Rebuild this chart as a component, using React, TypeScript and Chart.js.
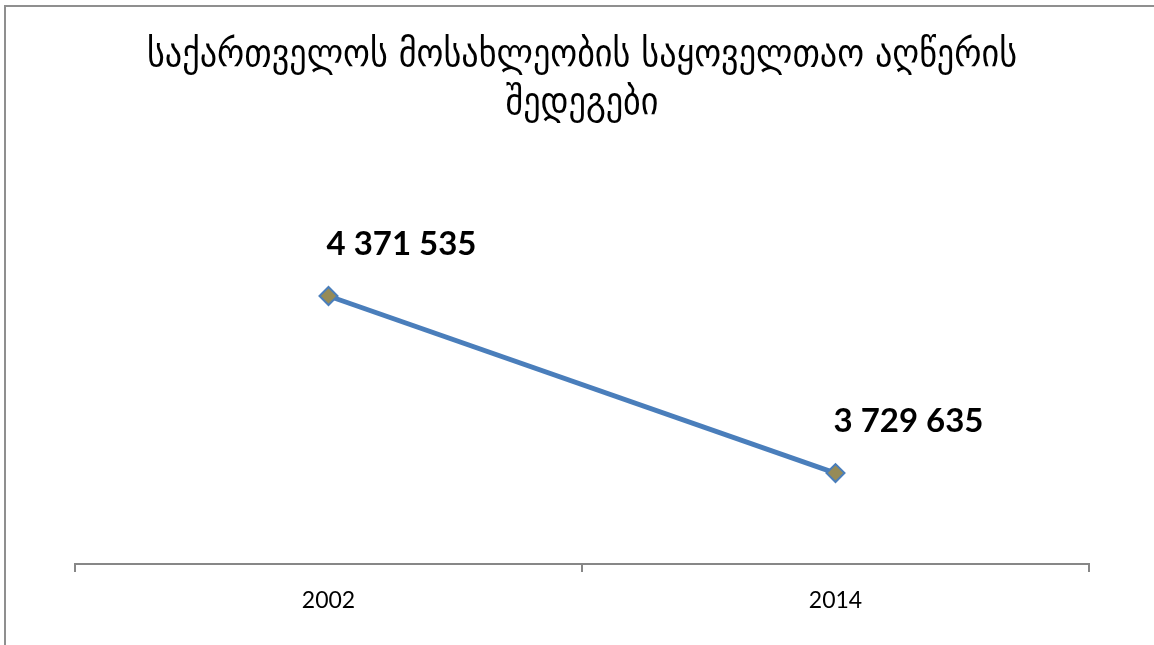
import React, { useEffect, useRef } from "react";
import { Chart, registerables } from "chart.js";

Chart.register(...registerables);

const categories = ["2002", "2014"];
const population = [4371535, 3729635];
const titleLines = [
  "საქართველოს მოსახლეობის საყოველთაო აღწერის",
  "შედეგები",
];

const formatValue = (v: number) =>
  String(v).replace(/\B(?=(\d{3})+(?!\d))/g, " ");

const framePlugin = {
  id: "frame",
  beforeDraw(chart: any) {
    const ctx = chart.ctx;
    ctx.save();
    ctx.fillStyle = "#ffffff";
    ctx.fillRect(0, 0, chart.width, chart.height);
    ctx.fillStyle = "#8f8f8f";
    ctx.fillRect(4, 5, 2, chart.height - 5);
    ctx.fillRect(4, 5, chart.width - 4, 2);
    ctx.restore();
  },
};

const labelPlugin = {
  id: "valueLabels",
  afterDatasetsDraw(chart: any) {
    const ctx = chart.ctx;
    const meta = chart.getDatasetMeta(0);
    const data = chart.data.datasets[0].data as number[];
    ctx.save();
    ctx.font = "bold 33px Lato";
    ctx.fillStyle = "#000000";
    ctx.textAlign = "center";
    ctx.textBaseline = "middle";
    meta.data.forEach((pt: any, i: number) => {
      ctx.fillText(formatValue(data[i]), pt.x + 73, pt.y - 52);
    });
    ctx.restore();
  },
};

export default function App() {
  const ref = useRef<HTMLCanvasElement>(null);
  useEffect(() => {
    if (!ref.current) return;
    const chart = new Chart(ref.current, {
      type: "line",
      data: {
        labels: categories,
        datasets: [
          {
            data: population,
            borderColor: "#4a7ebb",
            borderWidth: 5,
            pointStyle: "rectRot",
            pointRadius: 9,
            pointBorderWidth: 2,
            pointBackgroundColor: "#968b57",
            pointBorderColor: "#4a7ebb",
            tension: 0,
          },
        ],
      },
      options: {
        responsive: false,
        animation: false,
        devicePixelRatio: 1,
        layout: { padding: { left: 75, right: 65, top: 0, bottom: 0 } },
        plugins: {
          legend: { display: false },
          tooltip: { enabled: false },
          title: {
            display: true,
            text: titleLines,
            color: "#000000",
            font: { family: "DejaVu Sans Condensed", size: 38, weight: "normal", lineHeight: 1.24 },
            padding: { top: 33, bottom: 23 },
          },
        },
        scales: {
          x: {
            offset: true,
            grid: {
              display: true,
              offset: true,
              drawOnChartArea: false,
              drawTicks: true,
              tickLength: 8,
              color: "#878787",
              lineWidth: 2,
            },
            border: { display: true, color: "#878787", width: 2 },
            ticks: {
              color: "#000000",
              font: { family: "Lato", size: 23 },
              padding: 15,
            },
            afterFit(scale: any) {
              scale.height = 81;
            },
          },
          y: {
            display: false,
            min: 3400000,
            max: 4900000,
          },
        },
      },
      plugins: [framePlugin, labelPlugin],
    });
    return () => chart.destroy();
  }, []);
  return (
    <div style={{ position: "fixed", left: 0, top: 0, width: 1154, height: 645, overflow: "hidden", background: "#fff" }}>
      <canvas ref={ref} width={1154} height={645} style={{ display: "block", width: 1154, height: 645 }} />
    </div>
  );
}
